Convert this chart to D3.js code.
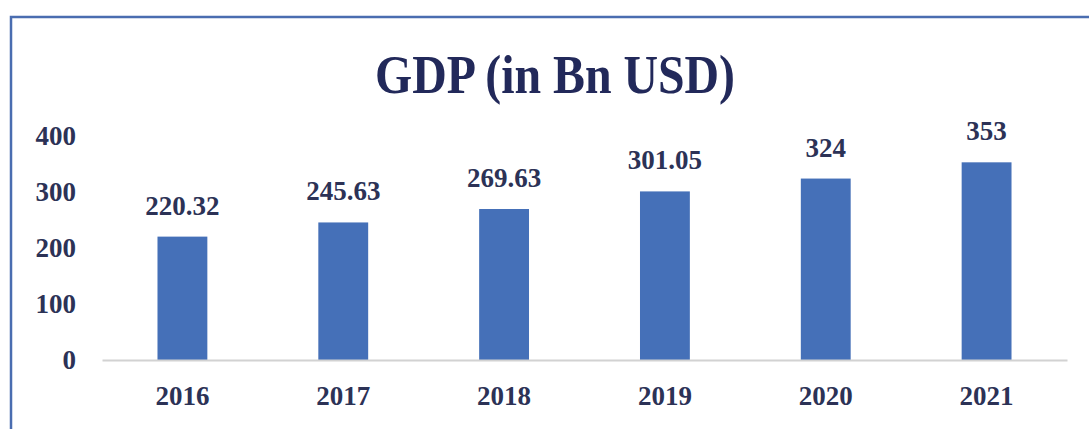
<!DOCTYPE html>
<html>
<head>
<meta charset="utf-8">
<script src="https://cdn.jsdelivr.net/npm/d3@7"></script>
<style>
  html, body { margin: 0; padding: 0; background: #ffffff; }
  svg { display: block; }
</style>
</head>
<body>
<svg id="chart" width="1089" height="429"></svg>
<script>
const years = ["2016", "2017", "2018", "2019", "2020", "2021"];
const gdp = [220.32, 245.63, 269.63, 301.05, 324, 353];
const valueLabels = ["220.32", "245.63", "269.63", "301.05", "324", "353"];
const yTicks = [0, 100, 200, 300, 400];
const titleText = "GDP (in Bn USD)";

const svg = d3.select("#chart");
const W = 1089, H = 429;
const serif = "'Liberation Serif', 'DejaVu Serif', serif";
const textColor = "#2c3256";

// outer frame (right and bottom edges lie outside the picture)
svg.append("rect")
  .attr("x", 11).attr("y", 17)
  .attr("width", W + 20).attr("height", H + 20)
  .attr("fill", "#ffffff")
  .attr("stroke", "#4a6db0")
  .attr("stroke-width", 2.5);

const x = d3.scaleBand().domain(years).range([102, 1067]).paddingInner(0.69).paddingOuter(0.345);
const y = d3.scaleLinear().domain([0, 400]).range([360, 136]);

// title
svg.append("text")
  .attr("x", 555).attr("y", 93)
  .attr("text-anchor", "middle")
  .attr("textLength", 360)
  .attr("lengthAdjust", "spacingAndGlyphs")
  .attr("font-family", serif)
  .attr("font-weight", "bold")
  .attr("font-size", 54)
  .attr("fill", "#22295a")
  .text(titleText);

// y axis (labels only)
const yAxis = d3.axisLeft(y).tickValues(yTicks).tickSize(0).tickPadding(0);
const yg = svg.append("g").attr("transform", "translate(76,0)").call(yAxis);
yg.select(".domain").remove();
yg.selectAll("text")
  .attr("font-family", serif)
  .attr("font-weight", "bold")
  .attr("font-size", 27)
  .attr("fill", textColor);

// bars
svg.append("g").selectAll("rect")
  .data(years)
  .join("rect")
  .attr("x", d => x(d))
  .attr("width", x.bandwidth())
  .attr("y", (d, i) => y(gdp[i]))
  .attr("height", (d, i) => y(0) - y(gdp[i]))
  .attr("fill", "#4570b8");

// x axis baseline and labels
const xAxis = d3.axisBottom(x).tickSize(0).tickPadding(0);
const xg = svg.append("g").attr("transform", `translate(0,${y(0)})`).call(xAxis);
xg.select(".domain").attr("stroke", "#d2d2d2").attr("stroke-width", 2);
xg.selectAll("text")
  .attr("dy", null)
  .attr("y", 45)
  .attr("font-family", serif)
  .attr("font-weight", "bold")
  .attr("font-size", 27)
  .attr("fill", textColor);

// value labels
svg.append("g").selectAll("text")
  .data(years)
  .join("text")
  .attr("x", d => x(d) + x.bandwidth() / 2)
  .attr("y", (d, i) => y(gdp[i]) - 22)
  .attr("text-anchor", "middle")
  .attr("font-family", serif)
  .attr("font-weight", "bold")
  .attr("font-size", 27)
  .attr("fill", textColor)
  .text((d, i) => valueLabels[i]);
</script>
</body>
</html>
